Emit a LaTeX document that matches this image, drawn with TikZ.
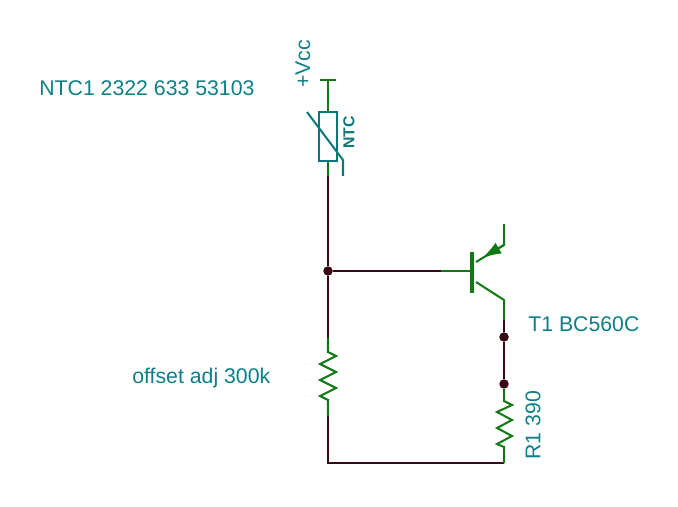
\documentclass[tikz,border=0pt]{standalone}
\usepackage{fontspec}
\setmainfont{Liberation Sans}
\usetikzlibrary{positioning,calc,arrows.meta}
\definecolor{netcol}{HTML}{3A0A14}
\definecolor{partcol}{HTML}{0F7A14}
\definecolor{labelcol}{HTML}{0E7F86}
\definecolor{boxcol}{HTML}{0A7878}
\tikzset{
  wire/.style={line width=1.15pt,color=netcol},
  lead/.style={line width=1.15pt,color=partcol},
  body/.style={line width=1.15pt,color=boxcol},
  junct/.style={circle,fill=netcol,inner sep=0pt,minimum size=5.4pt},
  lab/.style={text=labelcol,font=\fontsize{12.1}{14}\selectfont,inner sep=0pt}
}
\begin{document}
\begin{tikzpicture}[x=0.02cm,y=-0.02cm]
	\useasboundingbox (0,0) rectangle (678,506);
	% nets
	\node[junct] (base) at (328,271) {};
	\node[junct] (coll) at (504,337) {};
	\node[junct] (rtop) at (504,384) {};
	\coordinate (ntcend) at (328,176);
	\coordinate (bend) at (441,271);
	\coordinate (raend) at (328,338);
	\coordinate (rabot) at (328,416);
	\coordinate (cornerl) at (328,463);
	\coordinate (cornerr) at (504,463);
	\coordinate (cend) at (504,320);
	\draw[wire] (ntcend) -- (base) -- (bend);
	\draw[wire] (base) -- (raend);
	\draw[wire] (rabot) -- (cornerl) -- (cornerr);
	\draw[wire] (cend) -- (coll) -- (rtop);
	% supply and NTC
	\coordinate (vl) at (320,80);
	\coordinate (vr) at (336,80);
	\coordinate (vm) at (328,80);
	\coordinate (boxa) at (319,112);
	\coordinate (boxb) at (337,161);
	\coordinate (boxt) at (328,112);
	\coordinate (boxm) at (328,161);
	\draw[lead] (vl) -- (vr);
	\draw[lead] (vm) -- (boxt);
	\draw[lead] (boxm) -- (ntcend);
	\draw[body] (boxa) rectangle (boxb);
	\draw[body] (307,112) -- (343,160) -- (343,176);
	% transistor
	\coordinate (bar) at (472,271);
	\draw[lead] (bend) -- (bar);
	\draw[partcol,line width=2pt] (472,252) -- (472,293);
	\draw[lead] (476,262) -- (504,245) -- (504,224);
	\draw[partcol,line width=1.15pt,-{Latex[length=11pt,width=7pt]}] (504,245) -- (482,258);
	\draw[lead] (476,282) -- (504,300) -- (cend);
	% resistors
	\draw[lead] (raend) -- (328,352) -- (336,356) -- (320,364) -- (336,372) -- (320,380) -- (336,388) -- (320,396) -- (328,400) -- (rabot);
	\draw[lead] (rtop) -- (504,401) -- (512,405) -- (497,412) -- (512,420) -- (497,428) -- (512,436) -- (497,444) -- (504,447) -- (cornerr);
	% labels
	\node[lab,rotate=90,anchor=west] (vcc) at (303,88) {+Vcc};
	\node[lab,anchor=west] (ntcname) at (39,88) {NTC1 2322 633 53103};
	\node[lab,rotate=90,anchor=west,font=\fontsize{9}{10}\selectfont\bfseries,text=boxcol] (ntctag) at (349,149) {NTC};
	\node[lab,anchor=west] (t1) at (528,324) {T1 BC560C};
	\node[lab,anchor=west] (offs) at (132,378) {offset adj 300k};
	\node[lab,rotate=90,anchor=west] (r1) at (533,460) {R1 390};
\end{tikzpicture}
\end{document}
